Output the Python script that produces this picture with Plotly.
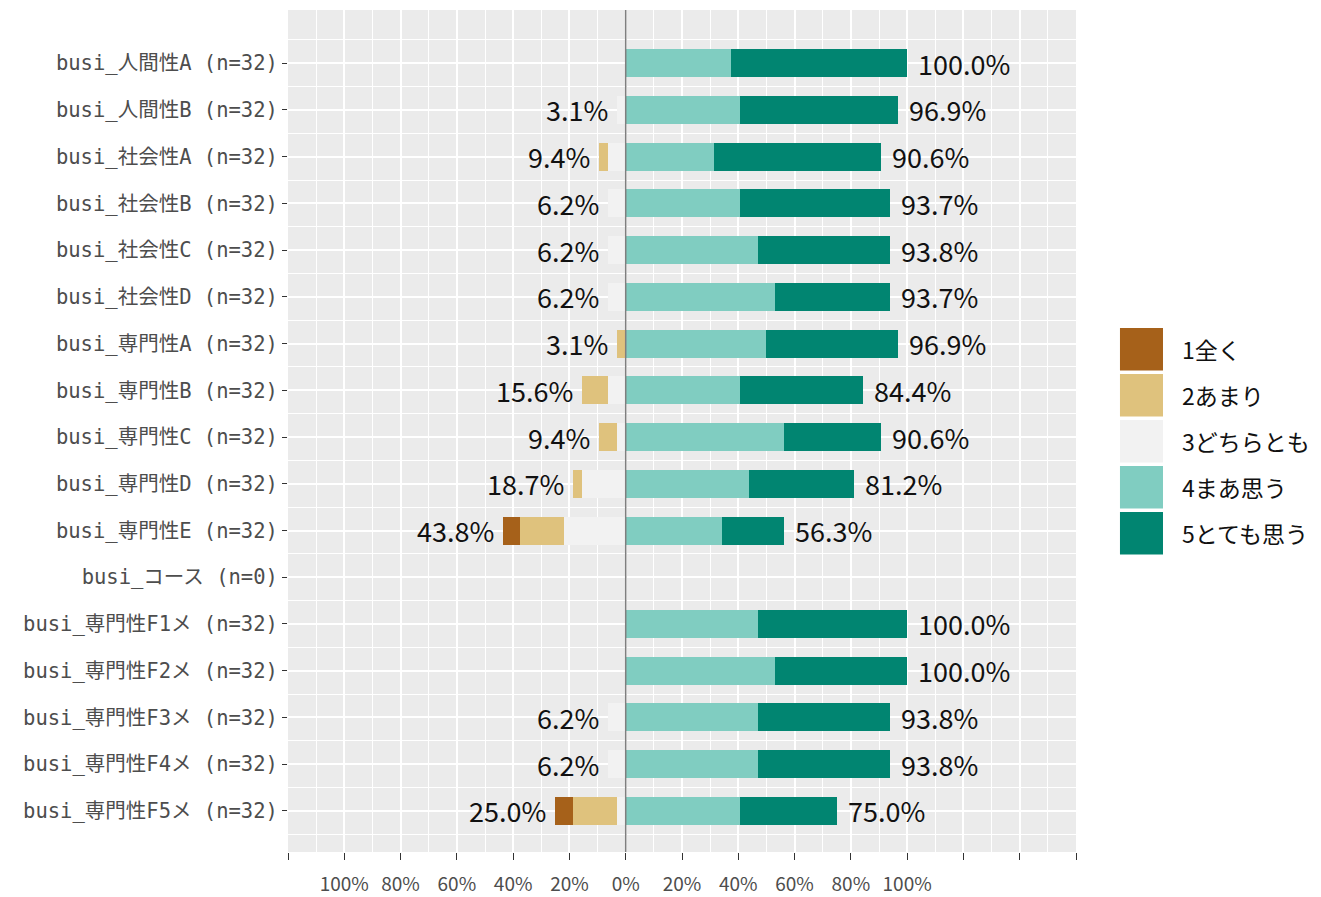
import plotly.graph_objects as go

categories = [
    "busi_人間性A (n=32)", "busi_人間性B (n=32)", "busi_社会性A (n=32)",
    "busi_社会性B (n=32)", "busi_社会性C (n=32)", "busi_社会性D (n=32)",
    "busi_専門性A (n=32)", "busi_専門性B (n=32)", "busi_専門性C (n=32)",
    "busi_専門性D (n=32)", "busi_専門性E (n=32)", "busi_コース (n=0)",
    "busi_専門性F1メ (n=32)", "busi_専門性F2メ (n=32)", "busi_専門性F3メ (n=32)",
    "busi_専門性F4メ (n=32)", "busi_専門性F5メ (n=32)",
]
levels = ["1全く", "2あまり", "3どちらとも", "4まあ思う", "5とても思う"]
colors = ["#A6611A", "#DFC27D", "#F2F2F2", "#80CDC1", "#018571"]

# counts per response level (n=32 each, n=0 for コース)
c1 = [0, 0, 0, 0, 0, 0, 0, 0, 0, 0, 2, 0, 0, 0, 0, 0, 2]
c2 = [0, 0, 1, 0, 0, 0, 1, 3, 2, 1, 5, 0, 0, 0, 0, 0, 5]
c3 = [0, 1, 2, 2, 2, 2, 0, 2, 1, 5, 7, 0, 0, 0, 2, 2, 1]
c4 = [12, 13, 10, 13, 15, 17, 16, 13, 18, 14, 11, 0, 15, 17, 15, 15, 13]
c5 = [20, 18, 19, 17, 15, 13, 15, 14, 11, 12, 7, 0, 17, 15, 15, 15, 11]
n_total = [32, 32, 32, 32, 32, 32, 32, 32, 32, 32, 32, 0, 32, 32, 32, 32, 32]

left_label = [None, 3.1, 9.4, 6.2, 6.2, 6.2, 3.1, 15.6, 9.4, 18.7, 43.8, None, None, None, 6.2, 6.2, 25.0]
right_label = [100.0, 96.9, 90.6, 93.7, 93.8, 93.7, 96.9, 84.4, 90.6, 81.2, 56.3, None, 100.0, 100.0, 93.8, 93.8, 75.0]

x_ticks = [-120, -100, -80, -60, -40, -20, 0, 20, 40, 60, 80, 100, 120, 140, 160]

def pct(c, n):
    return [(a / b * 100 if b else 0) for a, b in zip(c, n)]

p1, p2, p3, p4, p5 = (pct(c, n_total) for c in (c1, c2, c3, c4, c5))
ypos = list(range(len(categories)))

# bases
b3 = [-v for v in p3]
b2 = [-(a + b) for a, b in zip(p2, p3)]
b1 = [-(a + b + c) for a, b, c in zip(p1, p2, p3)]
b4 = [0] * len(categories)
b5 = p4[:]

fig = go.Figure()
for vals, base, col, name in [(p1, b1, colors[0], levels[0]), (p2, b2, colors[1], levels[1]),
                              (p3, b3, colors[2], levels[2]), (p4, b4, colors[3], levels[3]),
                              (p5, b5, colors[4], levels[4])]:
    fig.add_trace(go.Bar(y=ypos, x=vals, base=base, orientation="h", marker_color=col,
                         marker_line_width=0, width=0.6, name=name, showlegend=False))

TXT = dict(family="Noto Sans CJK JP", size=27, color="#111111")
for i in ypos:
    if left_label[i] is not None:
        lx = -(p1[i] + p2[i] + p3[i])
        fig.add_annotation(x=lx, y=i, xref="x", yref="y", text=f"{left_label[i]:.1f}%",
                           showarrow=False, xanchor="right", yanchor="middle", xshift=-7, font=TXT)
    if right_label[i] is not None:
        rx = p4[i] + p5[i]
        fig.add_annotation(x=rx, y=i, xref="x", yref="y", text=f"{right_label[i]:.1f}%",
                           showarrow=False, xanchor="left", yanchor="middle", xshift=9, font=TXT)

H = 889
B = 45
T = 2
ph = H - T - B
# manual legend with large keys (page px -> paper coords)
leg_top = 1 - (320 - T) / ph
step = 46 / ph
keyh = 42.5 / ph
for k, (lab, col) in enumerate(zip(levels, colors)):
    y0 = leg_top - k * step
    fig.add_shape(type="rect", xref="paper", yref="paper", x0=1.0558, x1=1.1104,
                  y0=y0 - keyh, y1=y0, fillcolor=col, line_width=0)
    fig.add_annotation(xref="paper", yref="paper", x=1.132, y=y0 - keyh / 2, text=lab,
                       showarrow=False, xanchor="left", yanchor="middle",
                       font=dict(family="Noto Sans CJK JP", size=23, color="#111111"))

fig.add_shape(type="line", xref="x", yref="paper", x0=0, x1=0, y0=0, y1=1,
              line=dict(color="#7F7F7F", width=1.5), layer="above")

fig.update_layout(
    width=1305, height=H,
    margin=dict(l=280, r=237, t=T, b=B),
    paper_bgcolor="white", plot_bgcolor="#EBEBEB",
    barmode="overlay", bargap=0,
    font=dict(family="Noto Sans CJK JP"),
)
fig.update_xaxes(
    range=[-120, 160], tickmode="array", tickvals=x_ticks,
    ticktext=[f"{abs(v)}%" if abs(v) <= 100 else "" for v in x_ticks],
    showgrid=True, gridcolor="white", gridwidth=1.6, zeroline=False,
    ticks="outside", ticklen=7, tickcolor="#333333", tickwidth=1.2,
    ticklabelstandoff=8,
    tickfont=dict(family="Noto Sans CJK JP", size=19, color="#4D4D4D"),
    minor=dict(dtick=10, tick0=0, showgrid=True, gridcolor="white", gridwidth=0.7),
    fixedrange=True,
)
fig.update_yaxes(
    range=[16.88, -1.14], tickmode="array", tickvals=ypos, ticktext=categories,
    showgrid=True, gridcolor="white", gridwidth=1.6, zeroline=False,
    ticks="outside", ticklen=5, tickcolor="#333333", tickwidth=1.2,
    tickfont=dict(family="DejaVu Sans Mono, Noto Sans CJK JP", size=20.5, color="#4D4D4D"),
    minor=dict(tickmode="linear", tick0=0.5, dtick=1, showgrid=True, gridcolor="white", gridwidth=0.7),
)

fig.write_html("out.html")
